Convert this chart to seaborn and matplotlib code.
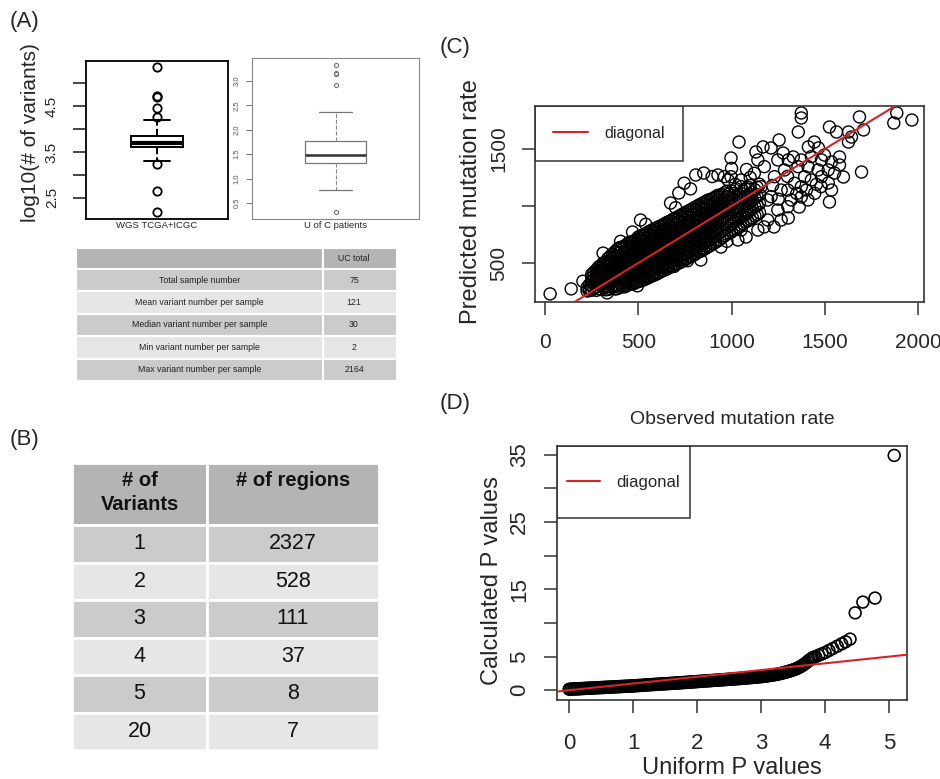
import pandas as pd
import seaborn as sns
import matplotlib
matplotlib.use("Agg")
import matplotlib.pyplot as plt
from matplotlib.patches import Rectangle
from matplotlib.lines import Line2D

# ---- (A) boxplots, log10 of variant counts per sample
wgs_log10 = [2.20, 2.65, 3.24, 3.30, 3.48, 3.57, 3.61, 3.63, 3.65, 3.67, 3.68, 3.69,
             3.70, 3.73, 3.76, 3.79, 3.82, 3.84, 3.85, 4.20, 4.26, 4.46, 4.69, 4.72, 5.35]
uc_log10 = [0.31, 0.76, 0.95, 1.08, 1.20, 1.28, 1.32, 1.35, 1.38, 1.41, 1.44, 1.46,
            1.48, 1.52, 1.57, 1.62, 1.68, 1.73, 1.77, 1.95, 2.37, 2.92, 3.15, 3.16, 3.33]

# ---- (A) summary table
a_header = ["", "UC total"]
a_items = ["Total sample number", "Mean variant number per sample",
           "Median variant number per sample", "Min variant number per sample",
           "Max variant number per sample"]
a_values = ["75", "121", "30", "2", "2164"]

# ---- (B) table
b_header = ["# of\nVariants", "# of regions"]
b_variants = ["1", "2", "3", "4", "5", "20"]
b_regions = ["2327", "528", "111", "37", "8", "7"]

# ---- (C) observed vs predicted mutation rate
# dense core, read column by column
c_core_obs = [225, 250, 275, 300, 325, 350, 375, 400, 425, 450, 475, 500, 525, 550,
              575, 600, 625, 650, 675, 700, 725, 750, 775, 800, 825, 850, 875, 900,
              925, 950, 975, 1000, 1025, 1050, 1075, 1100, 1125, 1150]
c_core_pred = [
    [255, 285],
    [262, 298, 335, 372, 400],
    [260, 292, 330, 365, 405, 440],
    [268, 305, 340, 380, 418, 455, 480],
    [265, 300, 345, 385, 425, 468, 510],
    [275, 318, 358, 400, 442, 485, 528, 560],
    [272, 312, 355, 398, 440, 482, 525, 565, 600],
    [285, 328, 370, 415, 458, 500, 545, 590, 635],
    [290, 335, 378, 420, 465, 510, 555, 600, 645],
    [312, 352, 398, 442, 488, 530, 575, 622, 680],
    [318, 362, 405, 450, 495, 540, 588, 635, 690],
    [338, 382, 428, 470, 515, 560, 605, 650, 700, 728],
    [350, 392, 438, 482, 528, 575, 620, 662, 705, 745],
    [368, 412, 455, 500, 548, 592, 635, 680, 722, 768],
    [388, 430, 478, 520, 565, 610, 652, 698, 742, 790],
    [405, 452, 495, 542, 585, 632, 675, 720, 768, 810],
    [428, 470, 515, 562, 605, 650, 698, 742, 785, 828],
    [445, 492, 538, 580, 625, 672, 715, 760, 805, 852],
    [468, 512, 555, 602, 648, 690, 738, 782, 828, 872],
    [488, 532, 578, 620, 665, 712, 755, 800, 848, 895],
    [505, 552, 598, 642, 688, 732, 778, 822, 868, 918],
    [528, 572, 615, 662, 708, 752, 798, 842, 888, 940],
    [552, 595, 642, 688, 730, 778, 822, 868, 912, 962],
    [572, 618, 662, 708, 752, 798, 842, 888, 932, 985],
    [598, 642, 688, 732, 778, 822, 868, 912, 958, 1008],
    [618, 662, 708, 752, 798, 842, 888, 932, 978, 1030],
    [642, 692, 738, 782, 828, 872, 918, 962, 1008, 1052],
    [668, 722, 772, 822, 868, 915, 962, 1012, 1065],
    [692, 752, 802, 852, 902, 948, 1000, 1050, 1092],
    [722, 782, 842, 892, 942, 992, 1042, 1100],
    [752, 812, 872, 932, 982, 1032, 1082, 1130],
    [772, 842, 902, 962, 1022, 1072, 1132],
    [800, 880, 950, 1020, 1090, 1150],
    [830, 905, 980, 1050, 1110, 1170],
    [860, 932, 1002, 1080, 1150],
    [882, 962, 1032, 1100, 1180],
    [912, 992, 1070, 1142],
    [942, 1022, 1100, 1190],
]
# second pass through the core, between the columns above
c_core2_obs = [237, 262, 287, 312, 337, 362, 387, 412, 437, 462, 487, 512, 537, 562,
               587, 612, 637, 662, 687, 712, 737, 762, 787, 812, 837, 862, 887, 912,
               937, 962, 987, 1012, 1037, 1062, 1087, 1112, 1137]
c_core2_pred = [
    [258, 280, 310],
    [278, 315, 352, 388, 420],
    [275, 312, 350, 390, 430, 465],
    [285, 322, 362, 402, 440, 478, 500],
    [268, 295, 335, 378, 420, 462, 505, 540],
    [295, 338, 380, 420, 462, 505, 545, 580],
    [275, 300, 342, 385, 428, 470, 512, 555, 598, 620],
    [305, 350, 395, 438, 482, 528, 572, 618, 640],
    [300, 322, 365, 410, 455, 500, 545, 590, 635, 662],
    [315, 338, 382, 425, 470, 515, 560, 605, 650, 685],
    [328, 358, 402, 448, 492, 538, 582, 628, 672, 705],
    [342, 368, 412, 455, 500, 545, 590, 635, 680, 720, 738],
    [358, 382, 425, 470, 515, 560, 605, 650, 695, 740, 755],
    [378, 400, 445, 490, 535, 580, 625, 668, 712, 755, 780],
    [395, 420, 465, 510, 555, 598, 642, 688, 732, 778, 800],
    [415, 440, 485, 530, 575, 620, 665, 710, 755, 798, 820],
    [435, 460, 505, 550, 595, 640, 685, 730, 775, 820, 840],
    [455, 480, 525, 570, 615, 660, 705, 750, 795, 840, 862],
    [478, 500, 545, 590, 635, 680, 725, 770, 815, 860, 885],
    [495, 520, 565, 610, 655, 700, 745, 790, 835, 880, 905],
    [515, 540, 585, 630, 675, 720, 765, 810, 855, 900, 928],
    [540, 562, 608, 652, 698, 742, 788, 832, 878, 925, 950],
    [560, 585, 630, 675, 720, 765, 810, 855, 900, 945, 972],
    [585, 608, 652, 698, 742, 788, 832, 878, 922, 968, 995],
    [605, 630, 675, 720, 765, 810, 855, 900, 945, 990, 1018],
    [630, 652, 698, 742, 788, 832, 878, 922, 968, 1015, 1040],
    [655, 705, 755, 800, 848, 892, 940, 985, 1035, 1058],
    [680, 738, 788, 838, 885, 932, 980, 1030, 1078],
    [705, 765, 820, 870, 920, 970, 1020, 1075, 1096],
    [738, 798, 858, 910, 960, 1010, 1060, 1115],
    [762, 828, 888, 945, 1000, 1052, 1105],
    [790, 860, 925, 990, 1055, 1110],
    [815, 892, 965, 1035, 1100],
    [845, 918, 990, 1065, 1130],
    [870, 945, 1018, 1090, 1165],
    [895, 978, 1050, 1120],
    [925, 1005, 1085, 1165],
]
# scattered points around the core
c_sparse_obs = [27, 140, 203, 311, 405, 469, 512, 540, 673, 717, 808, 851, 927, 981,
                700, 746, 780, 896, 962, 835, 943, 764, 692, 495, 333,
                1374, 1374, 1886, 1967, 1870, 1686, 1708, 1525, 1563, 1627, 1643, 1627,
                1358, 1040, 997, 1131, 1169, 1212, 1255, 1277, 1304, 1331, 1412, 1444,
                1466, 1498, 1536, 1579, 1579, 1600, 1552, 1697, 1519, 1536, 1525, 1428,
                1401, 1374, 1363, 1304, 1266, 1228, 1175, 1078, 1034, 975,
                1122, 1176, 1230, 1284, 1338, 1392, 1158, 1212, 1266, 1320, 1374, 1248,
                1302, 1356, 1410, 1464, 1482, 1428, 1051, 997, 1141, 1248, 1374, 1194,
                1141, 1051, 1302, 1194, 1410, 1446, 1482, 1518, 1480, 1020, 1100, 1080,
                1000, 1455, 1350, 1250, 1220, 1300]
c_sparse_pred = [229, 273, 340, 587, 690, 772, 877, 840, 1026, 1114, 1272, 1289, 1272, 1228,
                 985, 1200, 1150, 1258, 1258, 526, 640, 520, 470, 300, 238,
                 1816, 1772, 1816, 1754, 1728, 1781, 1667, 1693, 1649, 1649, 1605, 1561,
                 1649, 1561, 1421, 1474, 1518, 1509, 1579, 1465, 1404, 1430, 1518, 1561,
                 1509, 1447, 1386, 1430, 1360, 1254, 1289, 1298, 1202, 1140, 1035, 1228,
                 1140, 1079, 991, 895, 877, 816, 816, 728, 702, 690,
                 1287, 1345, 1257, 1316, 1199, 1257, 1169, 1082, 1140, 1053, 1169, 965,
                 994, 1345, 1345, 1316, 1404, 1433, 1228, 1257, 1404, 1404, 1404, 877,
                 789, 789, 1140, 1053, 1053, 1111, 1257, 1316, 1170, 1190, 1250, 1320,
                 1330, 1190, 1110, 1060, 1180, 1260]

# ---- (D) QQ plot, uniform vs calculated P values (-log10)
d_uniform = [0.000, 0.025, 0.050, 0.075, 0.100, 0.125, 0.150, 0.175, 0.200, 0.225,
             0.250, 0.275, 0.300, 0.325, 0.350, 0.375, 0.400, 0.425, 0.450, 0.475,
             0.500, 0.525, 0.550, 0.575, 0.600, 0.625, 0.650, 0.675, 0.700, 0.725,
             0.750, 0.775, 0.800, 0.825, 0.850, 0.875, 0.900, 0.925, 0.950, 0.975,
             1.000, 1.025, 1.050, 1.075, 1.100, 1.125, 1.150, 1.175, 1.200, 1.225,
             1.250, 1.275, 1.300, 1.325, 1.350, 1.375, 1.400, 1.425, 1.450, 1.475,
             1.500, 1.525, 1.550, 1.575, 1.600, 1.625, 1.650, 1.675, 1.700, 1.725,
             1.750, 1.775, 1.800, 1.825, 1.850, 1.875, 1.900, 1.925, 1.950, 1.975,
             2.000, 2.025, 2.050, 2.075, 2.100, 2.125, 2.150, 2.175, 2.200, 2.225,
             2.250, 2.275, 2.300, 2.325, 2.350, 2.375, 2.400, 2.425, 2.450, 2.475,
             2.500, 2.525, 2.550, 2.575, 2.600, 2.625, 2.650, 2.675, 2.700, 2.725,
             2.750, 2.775, 2.800, 2.825, 2.850, 2.875, 2.900, 2.925, 2.950, 2.975,
             3.000, 3.025, 3.050, 3.075, 3.100, 3.125, 3.150, 3.175, 3.200, 3.225,
             3.250, 3.275, 3.300, 3.325, 3.350, 3.375, 3.400, 3.425, 3.450, 3.475,
             3.500, 3.525, 3.550, 3.575, 3.600, 3.625, 3.650, 3.675, 3.700, 3.725,
             3.750, 3.775, 3.800, 3.825, 3.850, 3.900, 3.950, 4.000, 4.060, 4.120,
             4.190, 4.260, 4.320, 4.390, 4.470, 4.590, 4.780, 5.080]
d_calc = [0.15, 0.16, 0.18, 0.19, 0.20, 0.21, 0.22, 0.24, 0.25, 0.26,
          0.28, 0.29, 0.30, 0.31, 0.32, 0.34, 0.35, 0.36, 0.38, 0.39,
          0.40, 0.41, 0.42, 0.44, 0.45, 0.46, 0.47, 0.49, 0.50, 0.51,
          0.52, 0.54, 0.55, 0.56, 0.57, 0.59, 0.60, 0.61, 0.62, 0.64,
          0.65, 0.66, 0.68, 0.70, 0.71, 0.73, 0.74, 0.76, 0.78, 0.80,
          0.81, 0.83, 0.84, 0.86, 0.87, 0.89, 0.90, 0.92, 0.93, 0.95,
          0.96, 0.98, 0.99, 1.01, 1.02, 1.04, 1.05, 1.07, 1.09, 1.10,
          1.12, 1.14, 1.15, 1.17, 1.18, 1.20, 1.22, 1.24, 1.25, 1.27,
          1.29, 1.31, 1.32, 1.34, 1.36, 1.38, 1.39, 1.41, 1.42, 1.44,
          1.46, 1.48, 1.49, 1.51, 1.52, 1.54, 1.56, 1.58, 1.59, 1.61,
          1.63, 1.65, 1.66, 1.68, 1.70, 1.72, 1.73, 1.75, 1.77, 1.79,
          1.81, 1.83, 1.85, 1.87, 1.89, 1.91, 1.93, 1.95, 1.97, 2.00,
          2.02, 2.05, 2.08, 2.11, 2.14, 2.18, 2.21, 2.25, 2.29, 2.33,
          2.38, 2.43, 2.48, 2.54, 2.60, 2.66, 2.73, 2.80, 2.87, 2.94,
          3.02, 3.11, 3.20, 3.31, 3.42, 3.56, 3.70, 3.88, 4.05, 4.25,
          4.45, 4.62, 4.80, 4.90, 5.00, 5.20, 5.40, 5.60, 5.90, 6.20,
          6.55, 6.90, 7.20, 7.60, 11.5, 13.1, 13.7, 34.9]

RED = "#d6232a"
W, H = 940, 779


def box(l, t, r, b):
    # pixel box -> figure fraction
    return [l / W, 1 - b / H, (r - l) / W, (b - t) / H]


sns.set_style("ticks")
plt.rcParams["font.family"] = ["Liberation Sans", "DejaVu Sans"]

fig = plt.figure(figsize=(9.4, 7.79), dpi=100)

# ---------------- (A) boxplots
ax1 = fig.add_axes(box(86, 61, 228, 219))
sns.boxplot(y=wgs_log10, ax=ax1, width=0.37, color="white", linecolor="black",
            linewidth=1.4, whis=1.5, capwidths=0.18,
            medianprops=dict(color="black", linewidth=3),
            whiskerprops=dict(linestyle="--", color="black", linewidth=1.4),
            flierprops=dict(marker="o", markersize=6, markerfacecolor="none",
                            markeredgecolor="black", markeredgewidth=1.3))
ax1.set_xlim(-0.5, 0.5)
ax1.set_ylim(2.04, 5.48)
ax1.set_xticks([])
ax1.set_yticks([2.5, 3.0, 3.5, 4.0, 4.5, 5.0])
ax1.set_yticklabels(["2.5", "", "3.5", "", "4.5", ""])
ax1.tick_params(axis="y", length=9.5, width=1.2, labelsize=11, pad=10, labelrotation=90)
for lab in ax1.get_yticklabels():
    lab.set_va("center")
for sp in ax1.spines.values():
    sp.set_visible(True)
    sp.set_color("black")
    sp.set_linewidth(1.3)
ax1.set_ylabel("")
fig.text(31 / W, 1 - 133 / H, "log10(# of variants)", rotation=90, fontsize=15,
         ha="center", va="center")
fig.text(157 / W, 1 - 226 / H, "WGS TCGA+ICGC", fontsize=6.8, ha="center", va="center")

ax2 = fig.add_axes(box(252, 58, 419, 219))
sns.boxplot(y=uc_log10, ax=ax2, width=0.37, color="white", linecolor="#777777",
            linewidth=0.9, whis=1.5, capwidths=0.2,
            medianprops=dict(color="#333333", linewidth=1.8),
            whiskerprops=dict(linestyle="--", color="#888888", linewidth=0.8),
            flierprops=dict(marker="o", markersize=3, markerfacecolor="none",
                            markeredgecolor="#777777", markeredgewidth=0.8))
ax2.set_xlim(-0.5, 0.5)
ax2.set_ylim(0.17, 3.47)
ax2.set_xticks([])
ax2.set_yticks([0.5, 1.0, 1.5, 2.0, 2.5, 3.0])
ax2.set_yticklabels(["0.5", "1.0", "1.5", "2.0", "2.5", "3.0"])
ax2.tick_params(axis="y", length=4, width=0.7, labelsize=5.5, pad=4, labelrotation=90,
                color="#777777", labelcolor="#555555")
for lab in ax2.get_yticklabels():
    lab.set_va("center")
for sp in ax2.spines.values():
    sp.set_visible(True)
    sp.set_color("#888888")
    sp.set_linewidth(0.8)
ax2.set_ylabel("")
fig.text(336 / W, 1 - 226 / H, "U of C patients", fontsize=6.8, ha="center", va="center")

# ---------------- (A) table
HEAD, DARK, LIGHT = "#b4b4b4", "#cbcbcb", "#e6e6e6"
at = fig.add_axes(box(76, 248, 397, 381))
at.set_xlim(0, 321)
at.set_ylim(133, 0)
at.axis("off")
a_split, a_head_h, a_row_h = 247, 21, 22.4
for j, (x0, x1) in enumerate([(0, a_split), (a_split, 321)]):
    at.add_patch(Rectangle((x0, 0), x1 - x0, a_head_h, facecolor=HEAD,
                           edgecolor="white", lw=1.5))
    at.text((x0 + x1) / 2 - (6 if j else 0), a_head_h / 2, a_header[j], fontsize=6.3,
            ha="center", va="center", color="#222222")
for i, (item, val) in enumerate(zip(a_items, a_values)):
    y0 = a_head_h + i * a_row_h
    col = DARK if i % 2 == 0 else LIGHT
    at.add_patch(Rectangle((0, y0), a_split, a_row_h, facecolor=col, edgecolor="white", lw=1.5))
    at.add_patch(Rectangle((a_split, y0), 321 - a_split, a_row_h, facecolor=col,
                           edgecolor="white", lw=1.5))
    at.text(a_split / 2, y0 + a_row_h / 2, item, fontsize=6.3, ha="center", va="center",
            color="#222222")
    at.text((a_split + 321) / 2 - 6, y0 + a_row_h / 2, val, fontsize=6.3, ha="center",
            va="center", color="#222222")

# ---------------- (B) table
bt = fig.add_axes(box(72, 463, 379, 750))
bt.set_xlim(0, 307)
bt.set_ylim(287, 0)
bt.axis("off")
b_split, b_head_h, b_row_h = 135, 62, 37.5
bt.add_patch(Rectangle((0, 0), b_split, b_head_h, facecolor=HEAD, edgecolor="white", lw=2))
bt.add_patch(Rectangle((b_split, 0), 307 - b_split, b_head_h, facecolor=HEAD,
                       edgecolor="white", lw=2))
bt.text(b_split / 2, 8, b_header[0], fontsize=14.5, fontweight="bold", ha="center",
        va="top", linespacing=1.3, color="#111111")
bt.text((b_split + 307) / 2, 8, b_header[1], fontsize=14.5, fontweight="bold",
        ha="center", va="top", color="#111111")
for i, (v, r) in enumerate(zip(b_variants, b_regions)):
    y0 = b_head_h + i * b_row_h
    col = DARK if i % 2 == 0 else LIGHT
    bt.add_patch(Rectangle((0, y0), b_split, b_row_h, facecolor=col, edgecolor="white", lw=2))
    bt.add_patch(Rectangle((b_split, y0), 307 - b_split, b_row_h, facecolor=col,
                           edgecolor="white", lw=2))
    bt.text(b_split / 2, y0 + b_row_h / 2, v, fontsize=15.5, ha="center", va="center",
            color="#111111")
    bt.text((b_split + 307) / 2, y0 + b_row_h / 2, r, fontsize=15.5, ha="center",
            va="center", color="#111111")

# ---------------- (C) scatter
c_obs, c_pred = [], []
for cols_x, cols_y in [(c_core_obs, c_core_pred), (c_core2_obs, c_core2_pred)]:
    for x, ys in zip(cols_x, cols_y):
        c_obs += [x] * len(ys)
        c_pred += ys
c_obs += c_sparse_obs
c_pred += c_sparse_pred
df_c = pd.DataFrame({"observed": c_obs, "predicted": c_pred})

axc = fig.add_axes(box(535, 106, 924, 302))
sns.scatterplot(data=df_c, x="observed", y="predicted", ax=axc, s=75,
                facecolors="none", edgecolor="black", linewidth=1.0, legend=False)
axc.axline((0, 0), slope=1, color=RED, lw=1.5, zorder=3)
axc.set_xlim(-54, 2032)
axc.set_ylim(158, 1877)
axc.set_xticks([0, 500, 1000, 1500, 2000])
axc.set_yticks([500, 1000, 1500])
axc.set_yticklabels(["500", "", "1500"])
axc.set_xlabel("")
axc.set_ylabel("")
axc.tick_params(length=9.5, width=1.1, labelsize=15, pad=13, color="#333333")
axc.tick_params(axis="y", labelrotation=90, pad=10)
for lab in axc.get_yticklabels():
    lab.set_va("center")
for sp in axc.spines.values():
    sp.set_visible(True)
    sp.set_color("#333333")
    sp.set_linewidth(1.2)
fig.text(471 / W, 1 - 202 / H, "Predicted mutation rate", rotation=90, fontsize=17,
         ha="center", va="center")
axc.add_patch(Rectangle((0, 1 - 0.281), 0.38, 0.281, transform=axc.transAxes,
                        fill=False, edgecolor="#333333", lw=1.1, zorder=5))
axc.legend(handles=[Line2D([0], [0], color=RED, lw=1.5)], labels=["diagonal"],
           loc="center", bbox_to_anchor=(0.19, 1 - 0.1405), frameon=False,
           fontsize=11.5, handlelength=2.2, handletextpad=1.0)

# ---------------- (D) QQ plot
df_d = pd.DataFrame({"uniform": d_uniform, "calculated": d_calc})
axd = fig.add_axes(box(557, 446, 907, 700))
sns.scatterplot(data=df_d, x="uniform", y="calculated", ax=axd, s=72,
                facecolors="none", edgecolor="black", linewidth=1.2, legend=False)
axd.axline((0, 0), slope=1, color=RED, lw=1.5, zorder=3)
axd.set_xlim(-0.19, 5.28)
axd.set_ylim(-1.45, 36.3)
axd.set_xticks([0, 1, 2, 3, 4, 5])
axd.set_yticks([0, 5, 10, 15, 20, 25, 30, 35])
axd.set_yticklabels(["0", "5", "", "15", "", "25", "", "35"])
axd.set_xlabel("")
axd.set_ylabel("")
axd.tick_params(length=9.5, width=1.1, labelsize=16, pad=14, color="#333333")
axd.tick_params(axis="y", labelrotation=90, pad=10)
for lab in axd.get_yticklabels():
    lab.set_va("center")
for sp in axd.spines.values():
    sp.set_visible(True)
    sp.set_color("#333333")
    sp.set_linewidth(1.2)
fig.text(732 / W, 1 - 419 / H, "Observed mutation rate", fontsize=14, ha="center",
         va="center")
fig.text(732 / W, 1 - 768 / H, "Uniform P values", fontsize=17, ha="center", va="center")
fig.text(492 / W, 1 - 581 / H, "Calculated P values", rotation=90, fontsize=17,
         ha="center", va="center")
axd.add_patch(Rectangle((0, 1 - 0.2835), 0.38, 0.2835, transform=axd.transAxes,
                        fill=False, edgecolor="#333333", lw=1.1, zorder=5))
axd.legend(handles=[Line2D([0], [0], color=RED, lw=1.5)], labels=["diagonal"],
           loc="center", bbox_to_anchor=(0.19, 1 - 0.142), frameon=False,
           fontsize=12, handlelength=2.0, handletextpad=1.0)

# ---------------- panel letters
for lab, (px, py) in {"(A)": (10, 22), "(B)": (10, 440), "(C)": (440, 47),
                      "(D)": (440, 404)}.items():
    fig.text(px / W, 1 - py / H, lab, fontsize=16, ha="left", va="center")

fig.savefig("out.png", dpi=100)
